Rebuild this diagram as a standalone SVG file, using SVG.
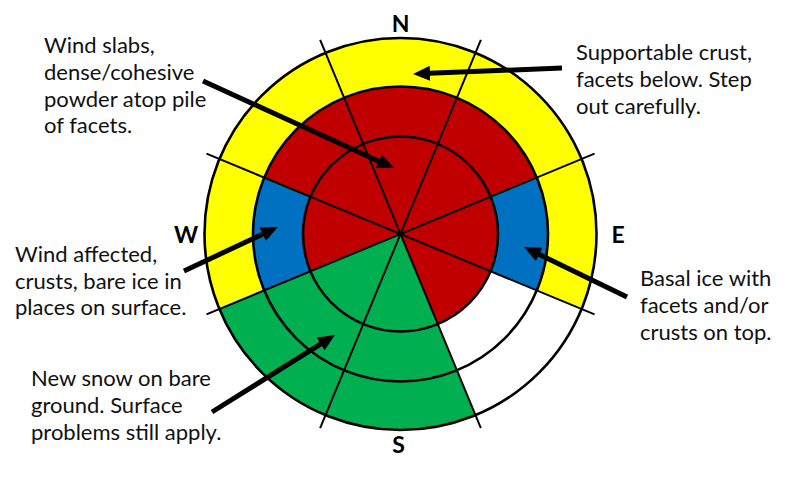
<svg xmlns="http://www.w3.org/2000/svg" width="800" height="479" viewBox="0 0 800 479">
<style>
.lbl{font-family:Lato,"Open Sans","Liberation Sans",sans-serif;font-size:22px;fill:#111}
.dir{font-family:Lato,"Open Sans","Liberation Sans",sans-serif;font-size:23px;font-weight:bold;fill:#000;text-anchor:middle}
.ring{fill:none;stroke:#000;stroke-width:2.6}
.div{stroke:#000;stroke-width:2}
.arr{stroke:#000;stroke-width:5;fill:none;marker-end:url(#ah)}
</style>
<defs>
<marker id="ah" markerUnits="userSpaceOnUse" viewBox="0 0 17 15" refX="7" refY="7.5" markerWidth="17" markerHeight="15" orient="auto">
<path d="M0,0 L17,7.5 L0,15 Z" fill="#000"/>
</marker>
</defs>
<rect width="800" height="479" fill="#fff"/>
<g id="rose">
<circle cx="400.5" cy="234" r="196" fill="#FFFF00"/>
<path d="M400.5,234 L581.58,309.01 A196,196 0 0 1 475.51,415.08 Z" fill="#fff"/>
<circle cx="400.5" cy="234" r="147.5" fill="#C00000"/>
<path d="M400.5,234 L536.77,177.55 A147.5,147.5 0 0 1 536.77,290.45 Z" fill="#0070C0"/>
<path d="M400.5,234 L264.23,290.45 A147.5,147.5 0 0 1 264.23,177.55 Z" fill="#0070C0"/>
<path d="M400.5,234 L536.77,290.45 A147.5,147.5 0 0 1 456.95,370.27 Z" fill="#fff"/>
<circle cx="400.5" cy="234" r="97.5" fill="#C00000"/>
<path d="M400.5,234 L475.51,415.08 A196,196 0 0 1 219.42,309.01 Z" fill="#00B050"/>
<circle class="ring" cx="400.5" cy="234" r="196"/>
<circle class="ring" cx="400.5" cy="234" r="147.5"/>
<circle class="ring" cx="400.5" cy="234" r="97.5"/>
<line class="div" x1="480.86" y1="39.99" x2="320.14" y2="428.01"/>
<line class="div" x1="594.51" y1="153.64" x2="206.49" y2="314.36"/>
<line class="div" x1="594.51" y1="314.36" x2="206.49" y2="153.64"/>
<line class="div" x1="480.86" y1="428.01" x2="320.14" y2="39.99"/>
</g>
<g id="directions">
<text class="dir" x="400.5" y="32">N</text>
<text class="dir" x="186" y="243">W</text>
<text class="dir" x="618" y="243">E</text>
<text class="dir" x="398.5" y="453">S</text>
</g>
<g id="label-north-inner">
<text class="lbl"><tspan x="44" y="53">Wind slabs,</tspan><tspan x="44" y="80">dense/cohesive</tspan><tspan x="44" y="106.5">powder atop pile</tspan><tspan x="44" y="133">of facets.</tspan></text>
</g>
<g id="label-north-outer">
<text class="lbl"><tspan x="576" y="60">Supportable crust,</tspan><tspan x="576" y="87">facets below. Step</tspan><tspan x="576" y="114">out carefully.</tspan></text>
</g>
<g id="label-west">
<text class="lbl"><tspan x="15" y="262">Wind affected,</tspan><tspan x="15" y="288.5">crusts, bare ice in</tspan><tspan x="15" y="315">places on surface.</tspan></text>
</g>
<g id="label-east">
<text class="lbl"><tspan x="640" y="286">Basal ice with</tspan><tspan x="640" y="313">facets and/or</tspan><tspan x="640" y="339.5">crusts on top.</tspan></text>
</g>
<g id="label-south">
<text class="lbl"><tspan x="31" y="386">New snow on bare</tspan><tspan x="31" y="412.5">ground. Surface</tspan><tspan x="31" y="439.5">problems still apply.</tspan></text>
</g>
<g id="connectors">
<line class="arr" x1="203" y1="81" x2="384.9" y2="163.9"/>
<line class="arr" x1="562" y1="68" x2="423" y2="73.6"/>
<line class="arr" x1="184" y1="271" x2="268.9" y2="231.2"/>
<line class="arr" x1="627" y1="297" x2="533" y2="251.4"/>
<line class="arr" x1="212" y1="412" x2="326.5" y2="340.3"/>
</g>
</svg>
